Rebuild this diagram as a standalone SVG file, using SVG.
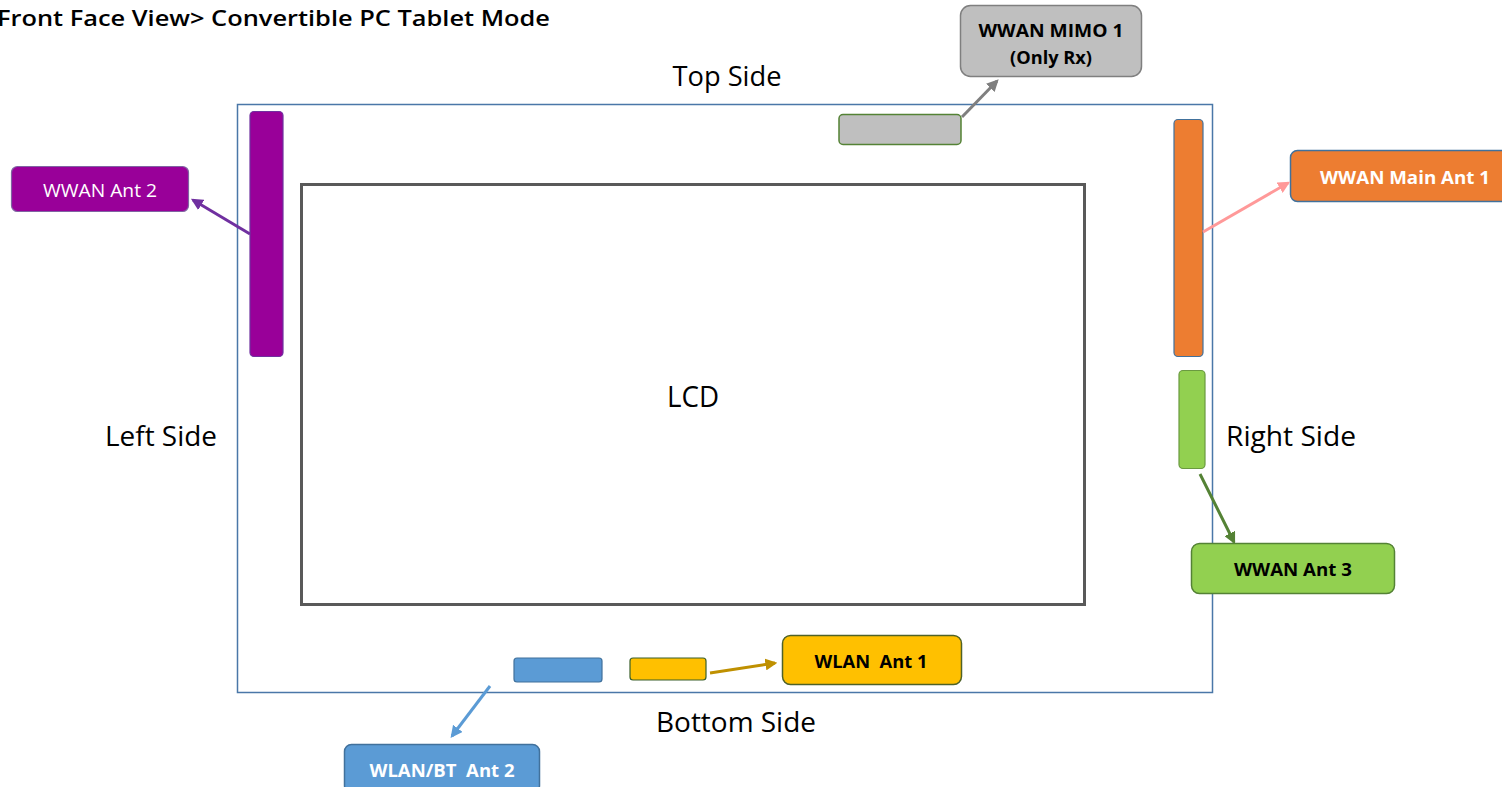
<svg xmlns="http://www.w3.org/2000/svg" width="1502" height="787" viewBox="0 0 1502 787">
<style>
text{font-family:"Open Sans","Noto Sans","Liberation Sans",sans-serif;white-space:pre;}
.side{font-size:27px;fill:#000;}
.lbl{font-size:18px;font-weight:bold;text-anchor:middle;}
.conn{stroke-width:3;fill:none;}
</style>
<defs>
<marker id="ahP" viewBox="0 0 10 10" refX="8" refY="5" markerWidth="4" markerHeight="4" orient="auto" markerUnits="strokeWidth"><path d="M0,0 L10,5 L0,10 z" fill="#7030A0"/></marker>
<marker id="ahG" viewBox="0 0 10 10" refX="8" refY="5" markerWidth="4" markerHeight="4" orient="auto" markerUnits="strokeWidth"><path d="M0,0 L10,5 L0,10 z" fill="#7F7F7F"/></marker>
<marker id="ahK" viewBox="0 0 10 10" refX="8" refY="5" markerWidth="4" markerHeight="4" orient="auto" markerUnits="strokeWidth"><path d="M0,0 L10,5 L0,10 z" fill="#FF9999"/></marker>
<marker id="ahD" viewBox="0 0 10 10" refX="8" refY="5" markerWidth="4" markerHeight="4" orient="auto" markerUnits="strokeWidth"><path d="M0,0 L10,5 L0,10 z" fill="#548235"/></marker>
<marker id="ahB" viewBox="0 0 10 10" refX="8" refY="5" markerWidth="4" markerHeight="4" orient="auto" markerUnits="strokeWidth"><path d="M0,0 L10,5 L0,10 z" fill="#5B9BD5"/></marker>
<marker id="ahY" viewBox="0 0 10 10" refX="8" refY="5" markerWidth="4" markerHeight="4" orient="auto" markerUnits="strokeWidth"><path d="M0,0 L10,5 L0,10 z" fill="#BF9000"/></marker>
</defs>
<rect width="1502" height="787" fill="#fff"/>
<text x="-3" y="26" font-size="21" font-weight="600" textLength="553" lengthAdjust="spacingAndGlyphs">Front Face View&gt; Convertible PC Tablet Mode</text>

<g id="frame">
<rect x="237.5" y="104.5" width="975" height="588" fill="none" stroke="#4A77A8" stroke-width="1.5"/>
</g>
<g id="lcd">
<rect x="301.5" y="184.5" width="783" height="420" fill="none" stroke="#595959" stroke-width="3"/>
<text x="693" y="407" font-size="29" text-anchor="middle" textLength="52" lengthAdjust="spacingAndGlyphs">LCD</text>
</g>
<g id="side-labels">
<text class="side" x="727" y="86" text-anchor="middle" textLength="109" lengthAdjust="spacingAndGlyphs">Top Side</text>
<text class="side" x="161" y="446" text-anchor="middle" textLength="112" lengthAdjust="spacingAndGlyphs">Left Side</text>
<text class="side" x="1291" y="446" text-anchor="middle" textLength="130" lengthAdjust="spacingAndGlyphs">Right Side</text>
<text class="side" x="736" y="732" text-anchor="middle" textLength="160" lengthAdjust="spacingAndGlyphs">Bottom Side</text>
</g>

<g id="ant-purple"><rect x="250" y="111.5" width="33" height="245" rx="4" fill="#990099" stroke="#7030A0" stroke-width="1.2"/></g>
<g id="ant-gray"><rect x="839" y="114.5" width="122" height="30" rx="4" fill="#BFBFBF" stroke="#548235" stroke-width="1.5"/></g>
<g id="ant-orange"><rect x="1174" y="119.5" width="29" height="237" rx="4" fill="#ED7D31" stroke="#41719C" stroke-width="1.2"/></g>
<g id="ant-green"><rect x="1179" y="370.5" width="26" height="98" rx="4" fill="#92D050" stroke="#6A9A40" stroke-width="1.2"/></g>
<g id="ant-blue"><rect x="514" y="658" width="88" height="24" rx="3" fill="#5B9BD5" stroke="#41719C" stroke-width="1.2"/></g>
<g id="ant-yellow"><rect x="630" y="658" width="76" height="22" rx="3" fill="#FFC000" stroke="#3A5F2A" stroke-width="1.2"/></g>

<g id="wwan-ant2">
<rect x="11.5" y="166.5" width="177" height="45" rx="6" fill="#990099" stroke="#8064A2" stroke-width="1.2"/>
<text x="100" y="197" font-size="18" fill="#fff" text-anchor="middle" textLength="114" lengthAdjust="spacingAndGlyphs">WWAN Ant 2</text>
</g>
<g id="wwan-mimo1">
<rect x="960.5" y="5.5" width="181" height="71" rx="10" fill="#BFBFBF" stroke="#7F7F7F" stroke-width="1.5"/>
<text class="lbl" x="1051" y="37" fill="#000" textLength="145" lengthAdjust="spacingAndGlyphs">WWAN MIMO 1</text>
<text class="lbl" x="1051" y="64" fill="#000" textLength="82" lengthAdjust="spacingAndGlyphs">(Only Rx)</text>
</g>
<g id="wwan-main1">
<rect x="1290.5" y="150.5" width="222" height="51" rx="7" fill="#ED7D31" stroke="#41719C" stroke-width="1.5"/>
<text class="lbl" x="1405" y="184" fill="#fff" textLength="170" lengthAdjust="spacingAndGlyphs">WWAN Main Ant 1</text>
</g>
<g id="wwan-ant3">
<rect x="1191.5" y="543.5" width="203" height="50" rx="8" fill="#92D050" stroke="#548235" stroke-width="1.5"/>
<text class="lbl" x="1293" y="576" fill="#000" textLength="118" lengthAdjust="spacingAndGlyphs">WWAN Ant 3</text>
</g>
<g id="wlan-bt-ant2">
<rect x="344.5" y="744.5" width="195" height="48" rx="7" fill="#5B9BD5" stroke="#41719C" stroke-width="1.5"/>
<text class="lbl" x="442" y="777" fill="#fff" textLength="145" lengthAdjust="spacingAndGlyphs">WLAN/BT  Ant 2</text>
</g>
<g id="wlan-ant1">
<rect x="782.5" y="635.5" width="179" height="49" rx="8" fill="#FFC000" stroke="#4F6228" stroke-width="1.5"/>
<text class="lbl" x="871" y="668" fill="#000" textLength="113" lengthAdjust="spacingAndGlyphs">WLAN  Ant 1</text>
</g>

<g id="connectors">
<line class="conn" x1="250" y1="234" x2="193" y2="200" stroke="#7030A0" marker-end="url(#ahP)"/>
<line class="conn" x1="962" y1="117" x2="997" y2="81" stroke="#7F7F7F" marker-end="url(#ahG)"/>
<line class="conn" x1="1203" y1="232" x2="1288" y2="183" stroke="#FF9999" marker-end="url(#ahK)"/>
<line class="conn" x1="1200" y1="474" x2="1234" y2="542" stroke="#548235" marker-end="url(#ahD)"/>
<line class="conn" x1="490" y1="686" x2="452" y2="736" stroke="#5B9BD5" marker-end="url(#ahB)"/>
<line class="conn" x1="710" y1="673" x2="775" y2="663" stroke="#BF9000" marker-end="url(#ahY)"/>
</g>
</svg>
